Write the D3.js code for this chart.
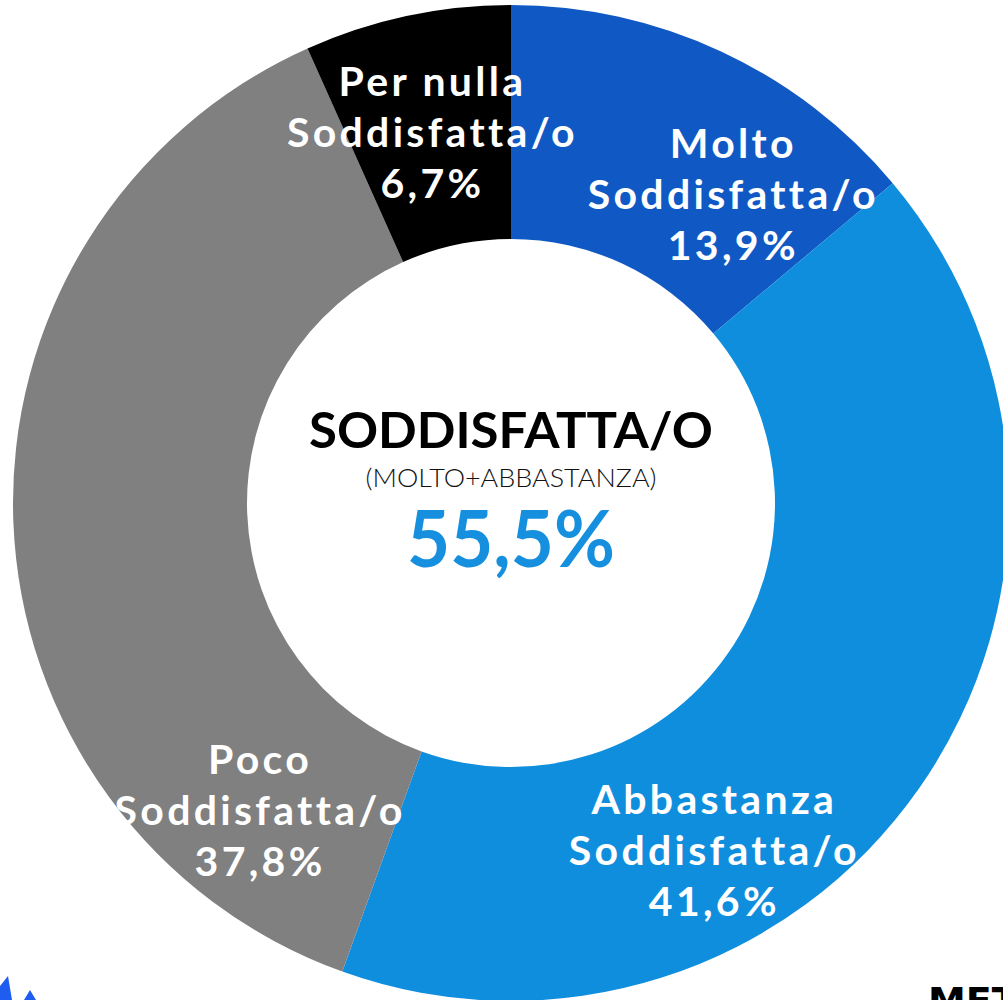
<!DOCTYPE html>
<html>
<head>
<meta charset="utf-8">
<title>Soddisfazione</title>
<script src="https://cdn.jsdelivr.net/npm/d3@7"></script>
<style>
  html, body { margin: 0; padding: 0; background: #fff; }
  svg { display: block; }
  .lbl { font-family: Lato, "Open Sans", sans-serif; font-weight: 700; fill: #fff; }
</style>
</head>
<body>
<script>
// dati
var categories = ["Molto", "Abbastanza", "Poco", "Per nulla"];
var values = [13.9, 41.6, 37.8, 6.7];
var valueLabels = ["13,9%", "41,6%", "37,8%", "6,7%"];
var colors = ["#1059c4", "#108ede", "#808080", "#000000"];

var totalTitle = "SODDISFATTA/O";
var totalSub = "(MOLTO+ABBASTANZA)";
var totalValue = "55,5%";

// posizione etichette (angolo in gradi, raggio) - messe a mano come nell'originale
var labelAngle = [35.8, 149.7, 219.2, 348];
var labelRadius = [380, 403, 397, 378];

var width = 1003, height = 1000,
    cx = 511, cy = 503,
    outerR = 498, innerR = 264;

var svg = d3.select("body").append("svg")
    .attr("width", width)
    .attr("height", height);

var g = svg.append("g")
    .attr("transform", "translate(" + cx + "," + cy + ")");

var data = categories.map(function(c, i) {
  return { name: c, value: values[i], label: valueLabels[i], color: colors[i], i: i };
});

var pie = d3.pie()
    .sort(null)
    .value(function(d) { return d.value; });

var arc = d3.arc()
    .innerRadius(innerR)
    .outerRadius(outerR);

g.selectAll("path.slice")
  .data(pie(data))
  .enter()
  .append("path")
  .attr("class", "slice")
  .attr("d", arc)
  .attr("fill", function(d) { return d.data.color; });

// etichette
var lineH = 51;
var lbl = g.selectAll("text.lbl")
  .data(data)
  .enter()
  .append("text")
  .attr("class", "lbl")
  .attr("text-anchor", "middle")
  .style("font-size", "41px")
  .style("letter-spacing", "3.3px")
  .attr("transform", function(d) {
    var p = d3.pointRadial(labelAngle[d.i] * Math.PI / 180, labelRadius[d.i]);
    return "translate(" + p[0] + "," + p[1] + ")";
  });

lbl.each(function(d) {
  var t = d3.select(this);
  var lines = [d.name, "Soddisfatta/o", d.label];
  lines.forEach(function(s, k) {
    t.append("tspan")
      .attr("x", 0)
      .attr("y", (k - 1) * lineH + 14)
      .text(s);
  });
});

// testo centrale
g.append("text")
  .attr("text-anchor", "middle")
  .attr("y", -55)
  .attr("textLength", 404)
  .attr("lengthAdjust", "spacingAndGlyphs")
  .style("font-family", "Lato, sans-serif")
  .style("font-weight", 700)
  .style("font-size", "49px")
  .style("fill", "#000")
  .text(totalTitle);

g.append("text")
  .attr("text-anchor", "middle")
  .attr("y", -16)
  .attr("textLength", 291)
  .attr("lengthAdjust", "spacingAndGlyphs")
  .style("font-family", "Lato, sans-serif")
  .style("font-weight", 300)
  .style("font-size", "25px")
  .style("fill", "#111")
  .text(totalSub);

g.append("text")
  .attr("text-anchor", "middle")
  .attr("y", 64)
  .attr("textLength", 208)
  .attr("lengthAdjust", "spacingAndGlyphs")
  .style("font-family", "Lato, sans-serif")
  .style("font-weight", 700)
  .style("font-size", "78px")
  .style("fill", "#1690de")
  .text(totalValue);

// frammenti dei loghi in basso (tagliati dal bordo come nell'originale)
svg.append("path")
  .attr("d", "M0,986 L8,976 L12,1000 L0,1000 Z M24,1000 L30,990 L36,1000 Z")
  .attr("fill", "#1f5cf0");

svg.append("text")
  .attr("x", 928)
  .attr("y", 1014)
  .style("font-family", "'DejaVu Sans', sans-serif")
  .style("font-weight", 900)
  .style("font-size", "38px")
  .style("fill", "#000")
  .text("MET");
</script>
</body>
</html>
